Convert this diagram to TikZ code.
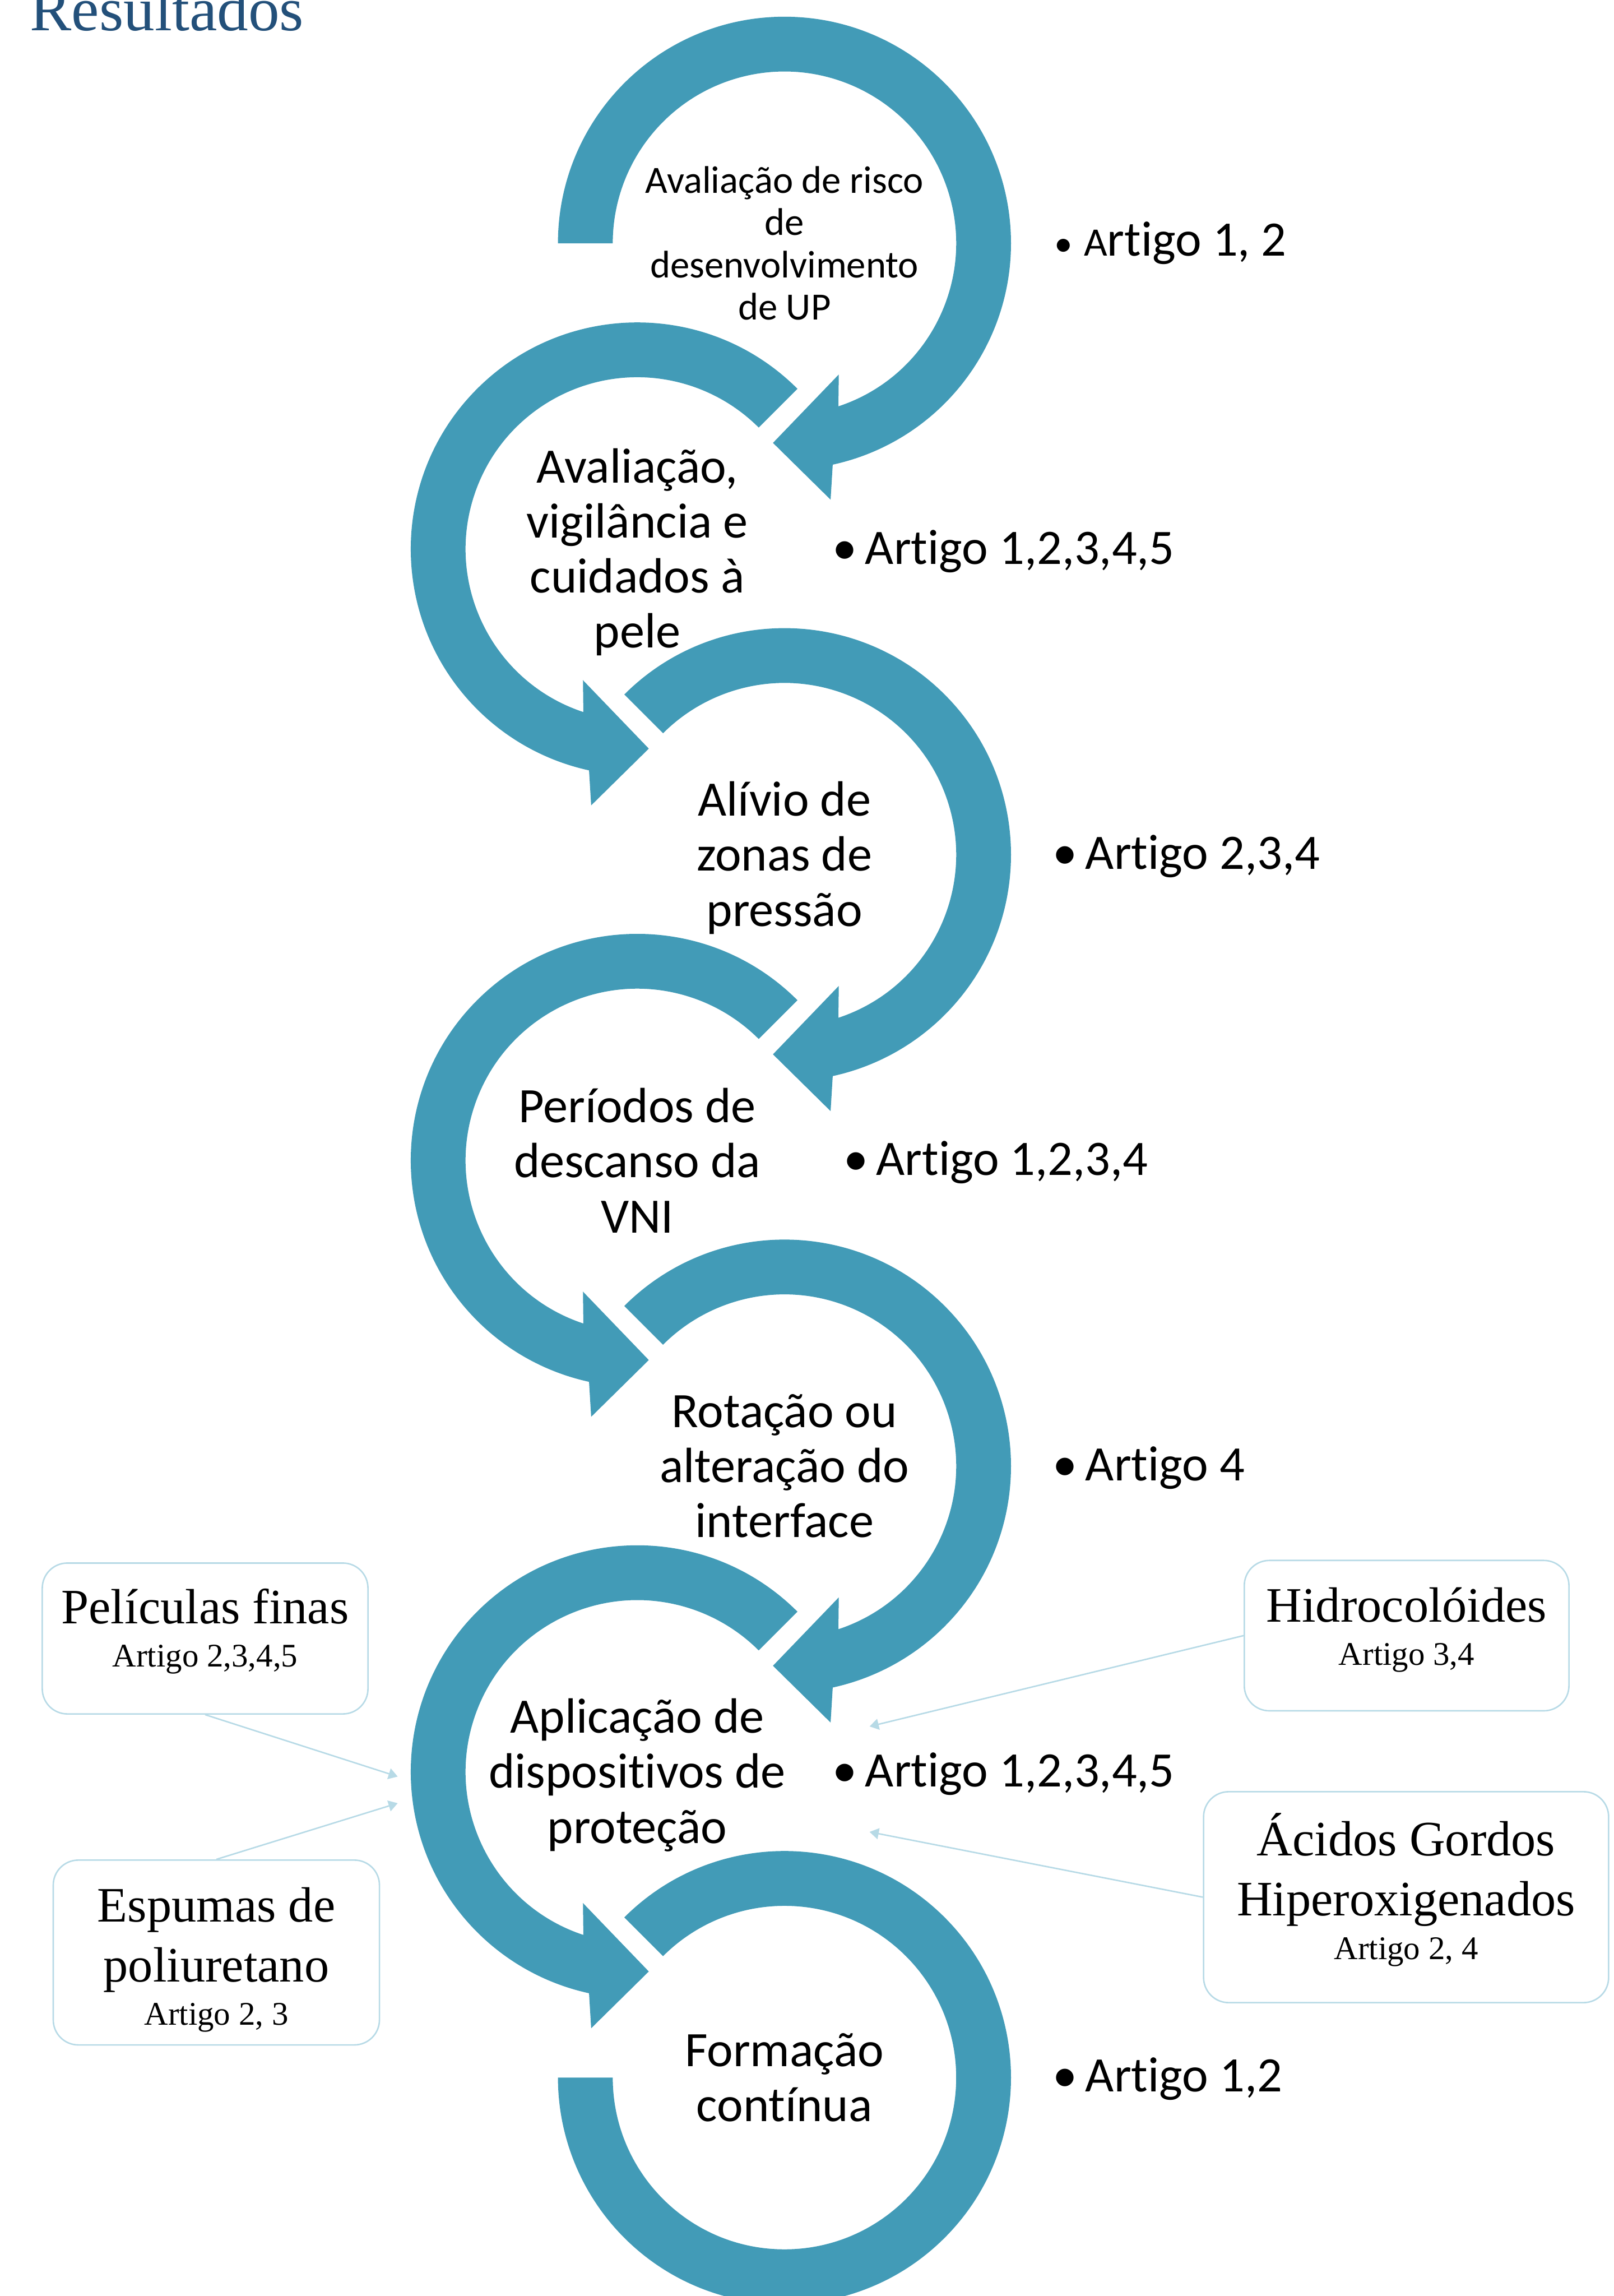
\documentclass[tikz,border=0pt]{standalone}
\usepackage{fontspec}
\setmainfont[Ligatures=NoCommon]{Liberation Serif}
\newfontfamily\calibri[RawFeature={-liga;-clig;-calt;-dlig}]{Carlito}
\usetikzlibrary{arrows.meta,shapes}
\definecolor{ringblue}{RGB}{66,155,183}
\definecolor{boxblue}{RGB}{183,218,230}
\definecolor{titleblue}{RGB}{35,80,122}
\tikzstyle{ring}=[fill=ringblue]
\tikzstyle{steptext}=[align=center,inner sep=0pt,font=\calibri\fontsize{27}{30}\selectfont]
\tikzstyle{artigo}=[anchor=base west,inner sep=0pt,font=\calibri\fontsize{27}{30}\selectfont]
\tikzstyle{caixa}=[draw=boxblue,line width=0.8pt,rounded corners=0.48cm,inner sep=0pt]
\tikzstyle{caixatexto}=[align=center,inner sep=0pt,font=\fontsize{27}{32.7}\selectfont]
\tikzstyle{link}=[draw=boxblue,line width=0.8pt,-{Triangle[length=5pt,width=6pt]}]
\newcommand{\marca}{\llap{•\hspace{0.16em}}}
\newcommand{\artref}[1]{\\[-9.1pt]{\fontsize{18}{23.6}\selectfont #1}}

\begin{document}
\begin{tikzpicture}
    \useasboundingbox (0,0) rectangle (30.92,-43.98);
    \node[anchor=base west,inner sep=0pt,text=titleblue,font=\fontsize{34}{40}\selectfont] (titulo) at (0.57,-0.59) {Resultados};

    \foreach \cx/\cy/\fl/\s in {15.03/-4.66/1/180, 12.21/-10.516/-1/135,
    15.03/-16.372/1/135, 12.21/-22.228/-1/135, 15.03/-28.084/1/135, 12.21/-33.94/-1/135}
        \fill[ring,shift={(\cx,\cy)},xscale=\fl] (\s:4.34) arc[start angle=\s,end angle=-77.7,radius=4.34]
            -- (-79.8:4.99) -- (-93.3:3.83) -- (-67.5:2.72) -- (-71.7:3.29)
            arc[start angle=-71.7,end angle=\s,radius=3.29] -- cycle;
    \fill[ring,shift={(15.03,-39.796)}] (135:4.34) arc[start angle=135,end angle=-180,radius=4.34]
        -- (180:3.29) arc[start angle=-180,end angle=135,radius=3.29] -- cycle;

    \node[steptext,font=\calibri\fontsize{21}{23}\selectfont] (risco) at (15.03,-4.66)
        {Avaliação de risco\\de\\desenvolvimento\\de UP};
    \foreach \pos/\name/\txt in {{(12.21,-10.576)/pele/{Avaliação,\\vigilância e\\cuidados à\\pele}},
    {(15.03,-16.432)/alivio/{Alívio de\\zonas de\\pressão}},
    {(12.21,-22.228)/descanso/{Períodos de\\descanso da\\VNI}},
    {(15.03,-28.084)/rotacao/{Rotação ou\\alteração do\\interface}},
    {(12.21,-34.00)/protecao/{Aplicação de\\dispositivos de\\proteção}},
    {(15.03,-39.796)/formacao/{Formação\\contínua}}}
        \node[steptext] (\name) at \pos {\txt};

    \node[artigo] (art1) at (20.76,-4.90)
        {\llap{\fontsize{20}{20}\selectfont•\hspace{0.3em}}{\fontsize{22}{22}\selectfont A}rtigo 1, 2};
    \foreach \pos/\name/\txt in {{(16.57,-10.81)/art2/{1,2,3,4,5}}, {(20.79,-16.65)/art3/{2,3,4}},
    {(16.78,-22.51)/art4/{1,2,3,4}}, {(20.79,-28.36)/art5/4},
    {(16.57,-34.22)/art6/{1,2,3,4,5}}, {(20.79,-40.07)/art7/{1,2}}}
        \node[artigo] (\name) at \pos {\marca Artigo \txt};

    \node[caixa,minimum width=6.24cm,minimum height=2.89cm] (peliculas) at (3.93,-31.385) {};
    \node[caixa,minimum width=6.22cm,minimum height=2.88cm] (hidro) at (26.95,-31.33) {};
    \node[caixa,minimum width=7.76cm,minimum height=4.04cm] (acidos) at (26.94,-36.34) {};
    \node[caixa,minimum width=6.25cm,minimum height=3.54cm] (espumas) at (4.145,-37.40) {};
    \node[caixatexto] (peliculas-txt) at ([yshift=0.14cm]peliculas.center) {Películas finas\artref{Artigo 2,3,4,5}};
    \node[caixatexto] (hidro-txt) at ([yshift=0.11cm]hidro.center) {Hidrocolóides\artref{Artigo 3,4}};
    \node[caixatexto] (acidos-txt) at ([yshift=0.14cm]acidos.center) {Ácidos Gordos\\Hiperoxigenados\artref{Artigo 2, 4}};
    \node[caixatexto] (espumas-txt) at ([yshift=-0.14cm]espumas.center) {Espumas de\\poliuretano\artref{Artigo 2, 3}};

    \coordinate (pinA) at (7.62,-34.03);
    \coordinate (pinB) at (7.62,-34.54);
    \coordinate (pinC) at (16.66,-33.07);
    \coordinate (pinD) at (16.66,-35.09);
    \foreach \source/\dest in {peliculas.south/pinA,espumas.north/pinB,hidro.west/pinC,acidos.west/pinD}
        \path[link] (\source) -- (\dest);
\end{tikzpicture}
\end{document}
